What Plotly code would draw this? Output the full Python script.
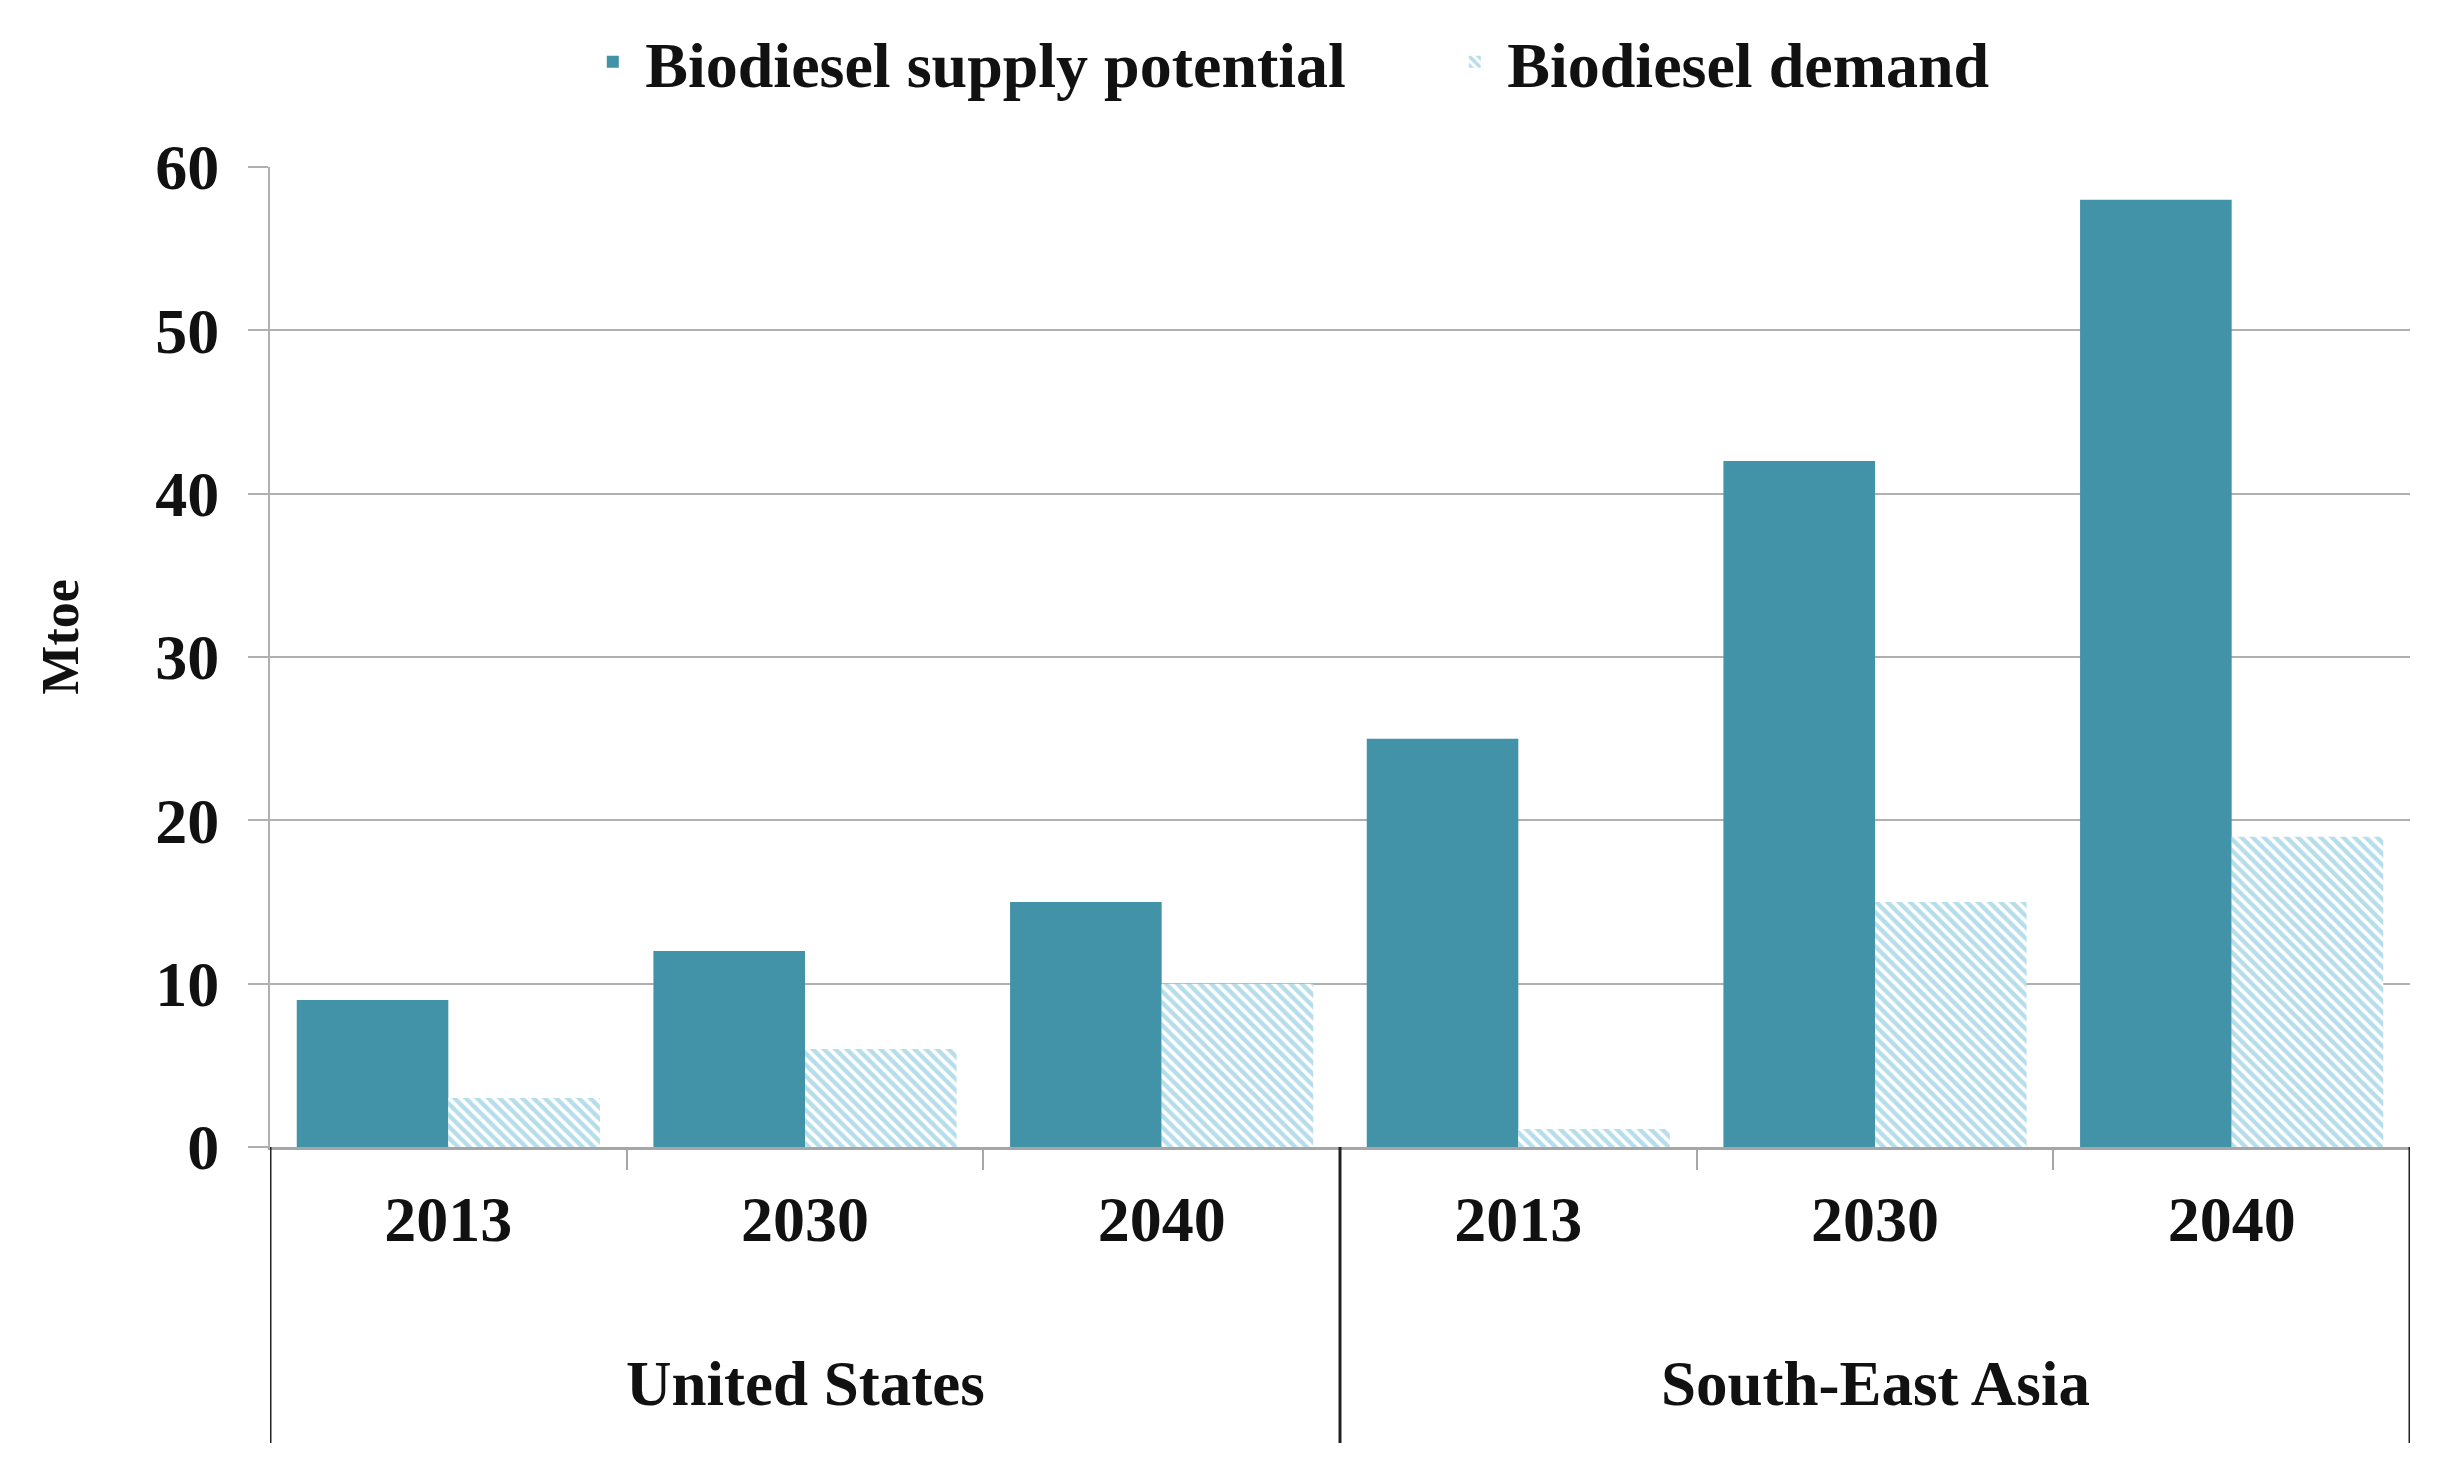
import plotly.graph_objects as go

regions = ["United States", "United States", "United States",
           "South-East Asia", "South-East Asia", "South-East Asia"]
years = ["2013", "2030", "2040", "2013", "2030", "2040"]
group_names = ["United States", "South-East Asia"]
supply = [9, 12, 15, 25, 42, 58]
demand = [3, 6, 10, 1.1, 15, 19]
y_ticks = [0, 10, 20, 30, 40, 50, 60]

FONT = "Liberation Serif"
SUPPLY_COLOR = "#4292A8"
DEMAND_COLOR = "#6DBCD6"

pos = list(range(len(years)))

fig = go.Figure()
fig.add_trace(go.Bar(
    x=pos, y=supply, name="Biodiesel supply potential",
    marker=dict(color=SUPPLY_COLOR, line=dict(width=0)),
))
fig.add_trace(go.Bar(
    x=pos, y=demand, name="Biodiesel demand",
    marker=dict(color="white", line=dict(width=0),
                pattern=dict(shape="\\", fgcolor=DEMAND_COLOR, bgcolor="white",
                             size=8, solidity=0.55)),
))

n_per_group = 3
boundaries = [-0.5 + i * n_per_group for i in range(len(group_names) + 1)]
minor_vals = [p + 0.5 for p in pos[:-1] if (p + 1) % n_per_group != 0]

for b in boundaries:
    fig.add_shape(type="line", xref="x", yref="paper", x0=b, x1=b, y0=0, y1=-0.302,
                  line=dict(color="#222222", width=3))

for gi, g in enumerate(group_names):
    fig.add_annotation(x=gi * n_per_group + (n_per_group - 1) / 2, xref="x",
                       y=-0.242, yref="paper", text=g, showarrow=False,
                       yanchor="middle",
                       font=dict(family=FONT, size=63, color="#111111", weight="bold"))

fig.add_annotation(x=-0.098, xref="paper", y=0.52, yref="paper", text="Mtoe",
                   textangle=-90, showarrow=False, xanchor="center", yanchor="middle",
                   font=dict(family=FONT, size=52, color="#111111", weight="bold"))

fig.update_layout(
    width=2438, height=1449,
    margin=dict(l=262, r=36, t=159, b=310, autoexpand=False),
    paper_bgcolor="white", plot_bgcolor="white",
    barmode="group", bargap=0.15, bargroupgap=0,
    font=dict(family=FONT, color="#111111", weight="bold"),
    legend=dict(orientation="h", x=0.145, xanchor="left", y=1.107, yanchor="middle",
                font=dict(family=FONT, size=64, color="#111111", weight="bold"),
                traceorder="normal", itemwidth=55, entrywidth=792),
    showlegend=True,
)

fig.update_xaxes(
    range=[-0.5, len(years) - 0.5],
    tickvals=pos, ticktext=years, ticks="",
    tickfont=dict(family=FONT, size=64, color="#111111", weight="bold"),
    ticklabelstandoff=14,
    showgrid=False, zeroline=False,
    showline=True, linecolor="#a6a6a6", linewidth=3,
    minor=dict(tickvals=minor_vals, ticks="outside", ticklen=20, tickcolor="#a6a6a6",
               tickwidth=2, showgrid=False),
)
fig.update_yaxes(
    range=[0, 60], tickvals=y_ticks,
    ticks="outside", ticklen=20, tickcolor="#b0b0b0", tickwidth=2,
    ticklabelstandoff=16,
    tickfont=dict(family=FONT, size=64, color="#111111", weight="bold"),
    showgrid=True, gridcolor="#b0b0b0", gridwidth=2,
    zeroline=False, showline=True, linecolor="#b0b0b0", linewidth=2,
)

fig.write_html("out.html")
